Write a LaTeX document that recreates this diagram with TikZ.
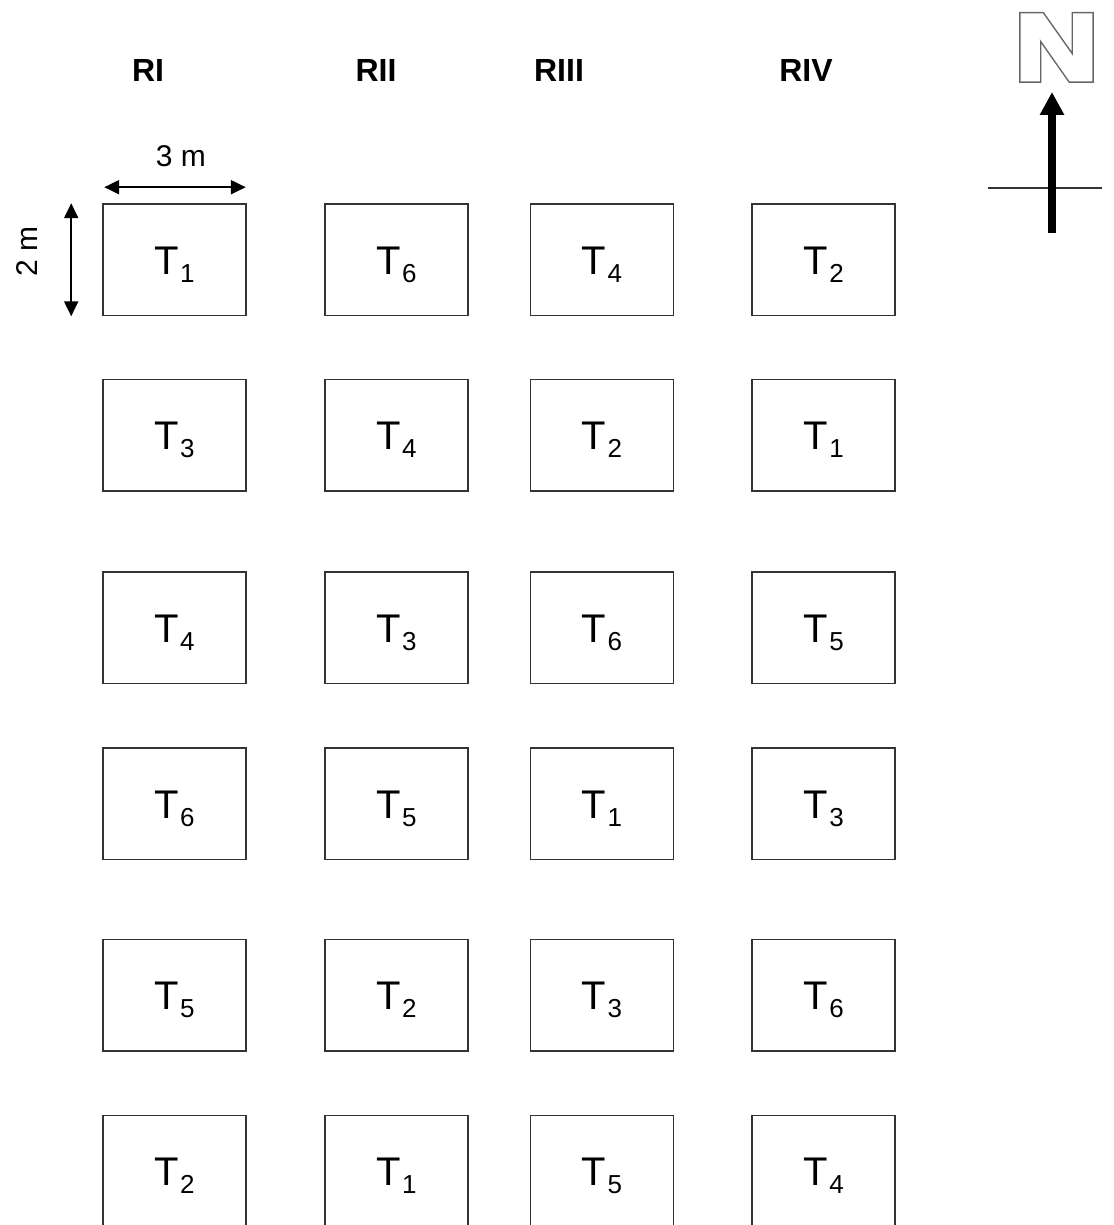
\documentclass[tikz,border=0pt]{standalone}
\usepackage{fontspec}
\setmainfont{Liberation Sans}
\newfontfamily\nfont[FakeStretch=1.24]{Liberation Sans Bold}
\usetikzlibrary{arrows.meta}

% treatment label: T with a lowered subscript number
\newcommand\tsub[1]{T\kern1.5pt\raisebox{-8pt}{\fontsize{26}{30}\selectfont #1}}
% text set in a given PDF rendering mode and stroke width
\newcommand\rmode[3]{\special{pdf:literal direct #1 Tr #2 w}#3\special{pdf:literal direct 0 Tr 1 w}}

\begin{document}
\begin{tikzpicture}[x=1pt,y=-1pt,
  plot/.style={draw=black!80, line width=1.6pt, minimum width=143pt,
    minimum height=111.5pt, inner sep=0pt, text height=70pt, text depth=41.5pt,
    font=\fontsize{40}{48}\selectfont},
  rep/.style={font=\bfseries\fontsize{32}{38}\selectfont},
  dimtxt/.style={font=\fontsize{30}{36}\selectfont, inner sep=0pt, anchor=base},
  dim/.style={line width=2pt, black,
    {Triangle[length=15pt,width=14pt]}-{Triangle[length=15pt,width=14pt]}},
  ]
\useasboundingbox (0,0) rectangle (1113,1225);
\clip (0,0) rectangle (1113,1225);

% replicate headers
\node[rep] (r1) at (148,70) {RI};
\node[rep] (r2) at (376,70) {RII};
\node[rep] (r3) at (559,70) {RIII};
\node[rep] (r4) at (806,70) {RIV};

% plots: row centre / row index / treatments in RI..RIV
\foreach \yc/\r/\a/\b/\c/\d in {
    259.75/1/1/6/4/2,
    435.25/2/3/4/2/1,
    627.75/3/4/3/6/5,
    803.75/4/6/5/1/3,
    995.25/5/5/2/3/6,
    1171.25/6/2/1/5/4} {
  \node[plot] (p\r-1) at (174.5,\yc) {\tsub{\a}};
  \node[plot] (p\r-2) at (396.3,\yc) {\tsub{\b}};
  \node[plot] (p\r-3) at (602,\yc) {\tsub{\c}};
  \node[plot] (p\r-4) at (823.6,\yc) {\tsub{\d}};
}

% plot dimensions
\draw[dim] ([xshift=2pt,yshift=16pt]p1-1.north west) -- ([xshift=-1pt,yshift=16pt]p1-1.north east);
\node[dimtxt] (wlab) at (181,167) {3 m};
\draw[dim] ([xshift=-31pt]p1-1.north west) -- ([xshift=-31pt]p1-1.south west);
\node[dimtxt, rotate=90] (hlab) at (37,251) {2 m};

% north arrow
\coordinate (cw) at (988,188);
\coordinate (ce) at (1102,188);
\coordinate (nbot) at (1052,233);
\coordinate (ntip) at (1052,92);
\draw[line width=1.5pt, black!80] (cw) -- (ce);
\draw[line width=7.5pt, -{Triangle[length=23pt,width=23pt]}] (nbot) -- (ntip);
% outlined N: wide grey stroke, then white fill over it
\node[inner sep=0pt, anchor=base] (nlab) at (1056.5,79)
  {\fontsize{92}{92}\nfont
   \rlap{\color{black!60}\rmode{1}{7.5}{N}}\color{white}\rmode{2}{4.5}{N}};
\end{tikzpicture}
\end{document}
